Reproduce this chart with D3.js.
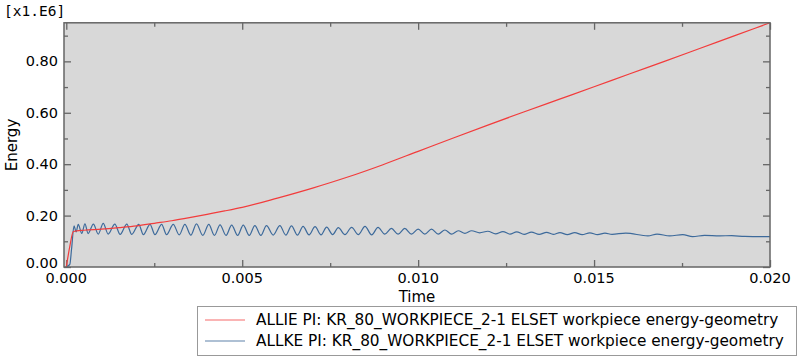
<!DOCTYPE html>
<html>
<head>
<meta charset="utf-8">
<script src="https://cdn.jsdelivr.net/npm/d3@7/dist/d3.min.js"></script>
<style>
body{margin:0;background:#fff;}
svg{display:block;font-family:"DejaVu Sans",Verdana,sans-serif;}
</style>
</head>
<body>
<svg id="chart" width="800" height="361"></svg>
<script>
// ---- data (Energy in x1.E6, Time in s) ----
const xTickValues = [0, 0.005, 0.010, 0.015, 0.020];
const xTickLabels = ["0.000", "0.005", "0.010", "0.015", "0.020"];
const yTickValues = [0, 0.2, 0.4, 0.6, 0.8];
const yTickLabels = ["0.00", "0.20", "0.40", "0.60", "0.80"];
const seriesNames = [
  "ALLIE PI: KR_80_WORKPIECE_2-1 ELSET workpiece energy-geometry",
  "ALLKE PI: KR_80_WORKPIECE_2-1 ELSET workpiece energy-geometry"
];
// ALLIE (internal energy)
const allieTime = [0, 0.0001, 0.0002, 0.0005, 0.001, 0.0015, 0.002, 0.0025, 0.003, 0.0035, 0.004, 0.0045, 0.005,
  0.006, 0.007, 0.008, 0.009, 0.010, 0.011, 0.012, 0.013, 0.014, 0.015, 0.016, 0.017, 0.018, 0.019, 0.020];
const allieValue = [0, 0.08, 0.138, 0.143, 0.147, 0.153, 0.160, 0.170, 0.180, 0.192, 0.205, 0.218, 0.232,
  0.268, 0.307, 0.350, 0.398, 0.450, 0.502, 0.553, 0.603, 0.652, 0.701, 0.751, 0.800, 0.850, 0.900, 0.950];
// ALLKE (kinetic energy)
const allkeTime = [0, 0.0001, 0.00015, 0.00022, 0.00028, 0.00034, 0.00044, 0.00053, 0.00062, 0.00077, 0.00091,
  0.00105, 0.00119, 0.00138, 0.00153, 0.00172, 0.00186, 0.00206, 0.00219, 0.00238, 0.00252, 0.00271, 0.00285,
  0.00304, 0.00321, 0.00337, 0.00354, 0.00370, 0.00388, 0.00405, 0.00421, 0.00437, 0.00454, 0.00470, 0.00487,
  0.00503, 0.00520, 0.00536, 0.00553, 0.00569, 0.00588, 0.00607, 0.00624, 0.00640, 0.00657, 0.00673, 0.00690,
  0.00707, 0.00724, 0.00740, 0.00757, 0.00773, 0.00792, 0.00811, 0.00830, 0.00849, 0.00868, 0.00886, 0.00905,
  0.00924, 0.00943, 0.00962, 0.00981, 0.01000, 0.01019, 0.01038, 0.01057, 0.01076, 0.01095, 0.01114, 0.01133,
  0.01152, 0.01175, 0.01198, 0.01220, 0.01241, 0.01261, 0.01280, 0.01301, 0.01322, 0.01344, 0.01365, 0.01384,
  0.01403, 0.01424, 0.01445, 0.01466, 0.01488, 0.01510, 0.01531, 0.01551, 0.01590, 0.01653, 0.01679, 0.01715,
  0.01752, 0.01780, 0.01814, 0.01857, 0.01891, 0.01928, 0.02000];
const allkeValue = [0, 0.01, 0.07, 0.160, 0.137, 0.166, 0.131, 0.168, 0.130, 0.167, 0.128,
  0.170, 0.128, 0.167, 0.127, 0.167, 0.127, 0.166, 0.126, 0.166, 0.126, 0.166, 0.126,
  0.166, 0.125, 0.166, 0.124, 0.168, 0.123, 0.166, 0.123, 0.164, 0.123, 0.163, 0.123,
  0.163, 0.123, 0.161, 0.123, 0.161, 0.124, 0.161, 0.124, 0.160, 0.124, 0.158, 0.125,
  0.157, 0.125, 0.155, 0.126, 0.153, 0.126, 0.154, 0.126, 0.158, 0.125, 0.154, 0.128,
  0.150, 0.128, 0.150, 0.128, 0.147, 0.128, 0.147, 0.128, 0.144, 0.128, 0.141, 0.131,
  0.141, 0.133, 0.139, 0.129, 0.138, 0.128, 0.137, 0.127, 0.136, 0.127, 0.135, 0.127,
  0.134, 0.126, 0.134, 0.126, 0.133, 0.126, 0.132, 0.127, 0.132, 0.121, 0.128, 0.121,
  0.126, 0.118, 0.123, 0.121, 0.122, 0.119, 0.118];

// ---- layout ----
const svg = d3.select("#chart");
const L = 64, R = 770, T = 22.8, B = 267;
const x = d3.scaleLinear().domain([-0.000065, 0.020]).range([L, R]);
const y = d3.scaleLinear().domain([0, 0.95]).range([B, T]);
const frameColor = "#666";

svg.append("rect").attr("x", L).attr("y", T).attr("width", R - L).attr("height", B - T)
  .attr("fill", "#d8d8d8");

// ticks (inward) via d3 axes
const xMinor = [0.0025, 0.0075, 0.0125, 0.0175];
const yMinor = [0.1, 0.3, 0.5, 0.7, 0.9];
function addAxis(gen, tx, ty, vals, size) {
  const g = svg.append("g").attr("transform", `translate(${tx},${ty})`)
    .call(gen.tickValues(vals).tickSize(size).tickFormat(""));
  g.select(".domain").remove();
  g.selectAll(".tick line").attr("stroke", frameColor).attr("stroke-width", 1.3);
  return g;
}
addAxis(d3.axisTop(x), 0, B, xTickValues, 7);
addAxis(d3.axisTop(x), 0, B, xMinor, 4);
addAxis(d3.axisBottom(x), 0, T, xTickValues, 7);
addAxis(d3.axisBottom(x), 0, T, xMinor, 4);
addAxis(d3.axisRight(y), L, 0, yTickValues, 7);
addAxis(d3.axisRight(y), L, 0, yMinor, 4);
addAxis(d3.axisLeft(y), R, 0, yTickValues, 7);
addAxis(d3.axisLeft(y), R, 0, yMinor, 4);

// tick labels
svg.append("g").selectAll("text").data(xTickValues).join("text")
  .attr("x", d => x(d)).attr("y", 283)
  .attr("text-anchor", "middle").attr("font-size", 14.5).attr("fill", "#000")
  .text((d, i) => xTickLabels[i]);
svg.append("g").selectAll("text").data(yTickValues).join("text")
  .attr("x", 58).attr("y", (d, i) => y(d) + 5 - (i === 0 ? 4 : 0))
  .attr("text-anchor", "end").attr("font-size", 14.5).attr("fill", "#000")
  .text((d, i) => yTickLabels[i]);

// lines
svg.append("clipPath").attr("id", "clip").append("rect")
  .attr("x", L).attr("y", T - 1).attr("width", R - L + 1).attr("height", B - T + 1);
const allie = allieTime.map((t, i) => [t, allieValue[i]]);
const allke = allkeTime.map((t, i) => [t, allkeValue[i]]);
const smooth = d3.line().curve(d3.curveMonotoneX).x(d => x(d[0])).y(d => y(d[1]));
svg.append("path").attr("d", smooth(allke)).attr("fill", "none")
  .attr("stroke", "#3d6a9b").attr("stroke-width", 1.2).attr("clip-path", "url(#clip)");
svg.append("path").attr("d", smooth(allie)).attr("fill", "none")
  .attr("stroke", "#f23c3c").attr("stroke-width", 1.2).attr("clip-path", "url(#clip)");

// frame
svg.append("rect").attr("x", L).attr("y", T).attr("width", R - L).attr("height", B - T)
  .attr("fill", "none").attr("stroke", frameColor).attr("stroke-width", 1.5);

// titles
svg.append("text").attr("x", 4).attr("y", 16).attr("font-size", 14.5)
  .attr("font-family", "'DejaVu Sans Mono', monospace").text("[x1.E6]");
svg.append("text").attr("x", 417).attr("y", 302).attr("text-anchor", "middle")
  .attr("font-size", 15).text("Time");
svg.append("text").attr("transform", "translate(17,145) rotate(-90)")
  .attr("text-anchor", "middle").attr("font-size", 15).text("Energy");

// legend
const lg = svg.append("g");
lg.append("rect").attr("x", 197.5).attr("y", 306.5).attr("width", 599).attr("height", 49)
  .attr("fill", "#fff").attr("stroke", "#999").attr("stroke-width", 1);
const legColors = ["#f56a6a", "#5f82aa"];
seriesNames.forEach((name, i) => {
  const yy = 320 + i * 21;
  lg.append("line").attr("x1", 205).attr("x2", 245).attr("y1", yy).attr("y2", yy)
    .attr("stroke", legColors[i]).attr("stroke-width", 1.2);
  lg.append("text").attr("x", 256).attr("y", yy + 5).attr("font-size", 15.3).text(name);
});
</script>
</body>
</html>
